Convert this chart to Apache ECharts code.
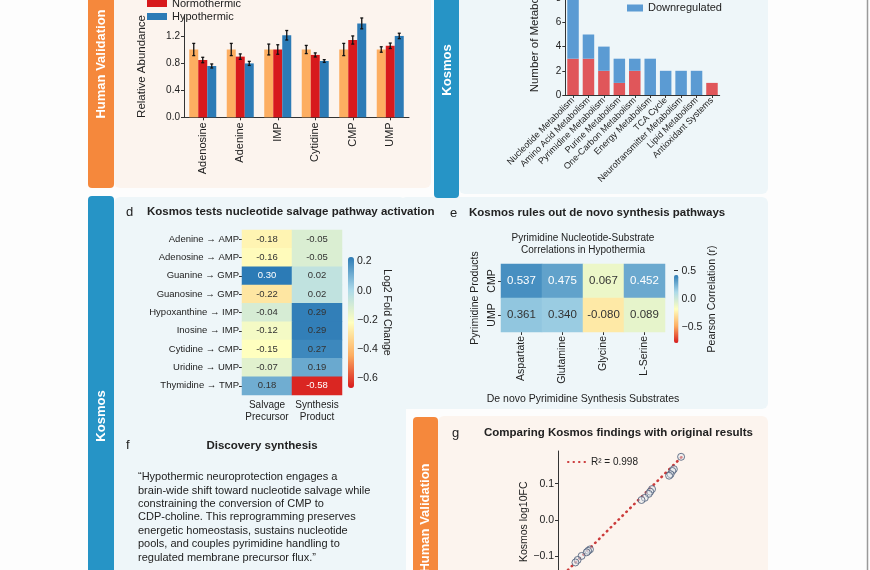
<!DOCTYPE html>
<html><head><meta charset="utf-8">
<script src="https://cdn.jsdelivr.net/npm/echarts@6/dist/echarts.min.js"></script>
<style>html,body{margin:0;padding:0;background:#fdfdfd}#c{width:870px;height:570px}</style>
</head><body><div id="c"></div>
<script>
// ---------- Panel a: human validation bars ----------
const aCategories = ['Adenosine','Adenine','IMP','Cytidine','CMP','UMP'];
const aGroups = ['Control','Normothermic','Hypothermic'];
const aControl = [1.0,1.0,1.0,1.0,1.0,1.0];
const aControlErr = [0.09,0.09,0.08,0.06,0.09,0.04];
const aNormo = [0.845,0.895,1.0,0.92,1.14,1.055];
const aNormoErr = [0.04,0.04,0.07,0.03,0.06,0.04];
const aHypo = [0.757,0.795,1.21,0.83,1.385,1.2];
const aHypoErr = [0.03,0.03,0.07,0.02,0.08,0.04];
const aTicks = [0,0.4,0.8,1.2];
// ---------- Panel b: pathway counts ----------
const bCategories = ['Nucleotide Metabolism','Amino Acid Metabolism','Pyrimidine Metabolism','Purine Metabolism','One-Carbon Metabolism','Energy Metabolism','TCA Cycle','Neurotransmitter Metabolism','Lipid Metabolism','Antioxidant Systems'];
const bUp = [3,3,2,1,2,0,0,0,0,1];
const bDown = [5,2,2,2,1,3,2,2,2,0];
// ---------- Panel d: salvage heatmap ----------
const dRows = ['Adenine → AMP','Adenosine → AMP','Guanine → GMP','Guanosine → GMP','Hypoxanthine → IMP','Inosine → IMP','Cytidine → CMP','Uridine → UMP','Thymidine → TMP'];
const dCols = ['Salvage\nPrecursor','Synthesis\nProduct'];
const dSalvage = [-0.18,-0.16,0.30,-0.22,-0.04,-0.12,-0.15,-0.07,0.18];
const dSynthesis = [-0.05,-0.05,0.02,0.02,0.29,0.29,0.27,0.19,-0.58];
const dTicks = [-0.6,-0.4,-0.2,0,0.2];
// ---------- Panel e: correlation heatmap ----------
const eRows = ['CMP','UMP'];
const eCols = ['Aspartate','Glutamine','Glycine','L-Serine'];
const eCMP = [0.537,0.475,0.067,0.452];
const eUMP = [0.361,0.340,-0.080,0.089];
const eTicks = [-0.5,0,0.5];
// ---------- Panel g: Kosmos vs original ----------
const gOriginal = [0.174,0.154,0.150,0.145,0.141,0.094,0.089,0.085,0.074,0.065,-0.077,-0.082,-0.086,-0.100,-0.111,-0.117];
const gKosmos   = [0.174,0.140,0.135,0.126,0.122,0.085,0.078,0.072,0.061,0.055,-0.081,-0.085,-0.089,-0.099,-0.110,-0.117];
const gFitX = [-0.17,0.178];
const gFitY = [-0.17,0.176];
const gTicks = [-0.2,-0.1,0,0.1];
// ---------- Panel f text ----------
const fLines = [
 '\u201cHypothermic neuroprotection engages a',
 'brain-wide shift toward nucleotide salvage while',
 'constraining the conversion of CMP to',
 'CDP-choline. This reprogramming preserves',
 'energetic homeostasis, sustains nucleotide',
 'pools, and couples pyrimidine handling to',
 'regulated membrane precursor flux.\u201d'
];

const FONT = '"Liberation Sans", Arial, sans-serif';
const INK = '#222';
const PAL = ['#d7191c','#fdae61','#ffffbf','#abd9e9','#2c7bb6'];
const minus = v => String(v).replace('-', '\u2212');

const errData = [];
[[aControl,aControlErr],[aNormo,aNormoErr],[aHypo,aHypoErr]].forEach((pair,g)=>{
  pair[0].forEach((m,i)=>errData.push([i,m,pair[1][i],g]));
});
const dData = [];
dRows.forEach((r,i)=>{
  [dSalvage[i], dSynthesis[i]].forEach((v,j)=>{
    const white = (v >= 0.3 || v <= -0.5);
    dData.push({value:[j,i,v], label:{color: white ? '#fff' : '#333'}});
  });
});
const eData = [];
[eCMP,eUMP].forEach((row,i)=>row.forEach((v,j)=>{
  eData.push({value:[j,i,v], label:{color: v > 0.4 ? '#fff' : '#333'}});
}));
const gPts = gOriginal.map((x,i)=>[x,gKosmos[i]]);
const gFit = gFitX.map((x,i)=>[x,gFitY[i]]);

const LINE = {show:true, onZero:false, lineStyle:{color:'#333', width:1}};
const TICK = {show:true, length:3, lineStyle:{color:'#333'}};

const chart = echarts.init(document.getElementById('c'), null, {renderer:'canvas'});
const txt = (x,y,text,font,extra) => Object.assign({type:'text', x, y, z:50,
  style:Object.assign({text, fill:INK, font, align:'left', verticalAlign:'middle'}, extra||{})});
const G = (o) => Object.assign({outerBoundsMode:'none', containLabel:false}, o);

const option = {
  animation:false,
  backgroundColor:'#fdfdfd',
  textStyle:{fontFamily:FONT},
  grid:[
    G({left:184, top:15.6, width:225, height:101.7}),   // 0 a
    G({left:565.3, top:-26, width:154.4, height:121}),  // 1 b
    G({left:242, top:230, width:100, height:165}),      // 2 d
    G({left:348, top:247, width:6, height:131}),        // 3 d colorbar
    G({left:501, top:264, width:164, height:68}),       // 4 e
    G({left:674, top:265, width:4.5, height:68}),       // 5 e colorbar
    G({left:558, top:451, width:139.8, height:141.6})   // 6 g
  ],
  xAxis:[
    {gridIndex:0, type:'category', data:aCategories, axisLine:LINE, splitLine:{show:false},
      axisTick:Object.assign({alignWithLabel:true}, TICK),
      axisLabel:{rotate:90, interval:0, fontSize:11, color:INK, margin:5}},
    {gridIndex:1, type:'category', data:bCategories, axisLine:LINE, splitLine:{show:false},
      axisTick:Object.assign({alignWithLabel:true}, TICK),
      axisLabel:{rotate:45, interval:0, fontSize:9, color:INK, margin:4}},
    {gridIndex:2, type:'category', data:dCols, axisLine:{show:false}, axisTick:{show:false},
      axisLabel:{interval:0, fontSize:10, lineHeight:12, color:INK, margin:4}},
    {gridIndex:3, type:'value', show:false, min:0, max:1},
    {gridIndex:4, type:'category', data:eCols, axisLine:{show:false},
      axisTick:Object.assign({alignWithLabel:true}, TICK),
      axisLabel:{rotate:90, interval:0, fontSize:10.5, color:INK, margin:4},
      name:'De novo Pyrimidine Synthesis Substrates', nameLocation:'middle', nameGap:62,
      nameTextStyle:{fontSize:10.5, color:INK}},
    {gridIndex:5, type:'value', show:false, min:0, max:1},
    {gridIndex:6, type:'value', min:-0.165, max:0.22, axisLine:LINE, axisTick:TICK, splitLine:{show:false},
      axisLabel:{fontSize:10.5, color:INK},
      name:'Original log10FC', nameLocation:'middle', nameGap:25, nameTextStyle:{fontSize:10.5, color:INK}}
  ],
  yAxis:[
    {gridIndex:0, type:'value', min:0, max:1.5, axisLine:LINE, splitLine:{show:false},
      axisTick:Object.assign({customValues:aTicks}, TICK),
      axisLabel:{customValues:aTicks, formatter:v=>v.toFixed(1), fontSize:10, color:INK, margin:4},
      name:'Relative Abundance', nameLocation:'middle', nameGap:36,
      nameTextStyle:{fontSize:11.5, color:INK}},
    {gridIndex:1, type:'value', min:0, max:10, interval:2, axisLine:LINE, splitLine:{show:false},
      axisTick:TICK,
      axisLabel:{fontSize:10, color:INK, margin:4},
      name:'Number of Metabolites', nameLocation:'middle', nameGap:24,
      nameTextStyle:{fontSize:11.5, color:INK}},
    {gridIndex:2, type:'category', data:dRows, inverse:true, axisLine:{show:false},
      axisTick:Object.assign({alignWithLabel:true}, TICK),
      axisLabel:{interval:0, fontSize:9.5, color:INK, margin:3}},
    {gridIndex:3, type:'value', position:'right', min:-0.6, max:0.3,
      axisLine:{show:false}, splitLine:{show:false},
      axisTick:{show:true, length:4, customValues:dTicks, lineStyle:{color:'#333'}},
      axisLabel:{customValues:dTicks, formatter:v=>minus(v.toFixed(1)), fontSize:10.5, color:INK, margin:3},
      name:'Log2 Fold Change', nameLocation:'middle', nameRotate:-90, nameGap:26,
      nameTextStyle:{fontSize:10.5, color:INK}},
    {gridIndex:4, type:'category', data:eRows, inverse:true, axisLine:{show:false},
      axisTick:Object.assign({alignWithLabel:true}, TICK),
      axisLabel:{rotate:90, interval:0, fontSize:10.5, color:INK, margin:3},
      name:'Pyrimidine Products', nameLocation:'middle', nameGap:20,
      nameTextStyle:{fontSize:10.5, color:INK}},
    {gridIndex:5, type:'value', position:'right', min:-0.6, max:0.6,
      axisLine:{show:false}, splitLine:{show:false},
      axisTick:{show:true, length:4, customValues:eTicks, lineStyle:{color:'#333'}},
      axisLabel:{customValues:eTicks, formatter:v=>minus(v.toFixed(1)), fontSize:10.5, color:INK, margin:3},
      name:'Pearson Correlation (r)', nameLocation:'middle', nameRotate:90, nameGap:26,
      nameTextStyle:{fontSize:10.5, color:INK}},
    {gridIndex:6, type:'value', min:-0.2, max:0.19, axisLine:LINE, splitLine:{show:false},
      axisTick:Object.assign({customValues:gTicks}, TICK),
      axisLabel:{customValues:gTicks, formatter:v=>minus(v.toFixed(1)), fontSize:10.5, color:INK, margin:4},
      name:'Kosmos log10FC', nameLocation:'middle', nameGap:17,
      nameTextStyle:{fontSize:10.5, color:INK}}
  ],
  visualMap:[
    {type:'continuous', seriesIndex:6, min:-0.6, max:0.3, left:333, top:242, itemWidth:6, itemHeight:131,
      calculable:false, inRange:{color:PAL}, text:null, textStyle:{color:'transparent'}},
    {type:'continuous', seriesIndex:7, min:-0.6, max:0.6, left:659, top:260, itemWidth:4.5, itemHeight:68,
      calculable:false, inRange:{color:PAL}, text:null, textStyle:{color:'transparent'}}
  ],
  legend:[
    {data:aGroups, orient:'vertical', left:147, top:-16, padding:0, itemGap:0, itemWidth:20, itemHeight:7,
      icon:'rect', textStyle:{fontSize:11, lineHeight:13, color:INK}},
    {data:['Upregulated','Downregulated'], orient:'vertical', left:627, top:-11.5, padding:0, itemGap:0,
      itemWidth:16, itemHeight:7, icon:'rect', textStyle:{fontSize:11, lineHeight:13, color:INK}},
    {data:['R² = 0.998'], left:567, top:457, padding:0, itemWidth:18, itemHeight:6,
      itemStyle:{opacity:0}, textStyle:{fontSize:10, color:INK}}
  ],
  series:[
    {name:'Control', type:'bar', xAxisIndex:0, yAxisIndex:0, data:aControl, barWidth:9, barGap:'0%', itemStyle:{color:'#fdae61'}},
    {name:'Normothermic', type:'bar', xAxisIndex:0, yAxisIndex:0, data:aNormo, barWidth:9, barGap:'0%', itemStyle:{color:'#d7191c'}},
    {name:'Hypothermic', type:'bar', xAxisIndex:0, yAxisIndex:0, data:aHypo, barWidth:9, barGap:'0%', itemStyle:{color:'#2c7bb6'}},
    {type:'custom', xAxisIndex:0, yAxisIndex:0, data:errData, z:5, encode:{x:0, y:1},
      renderItem:(params, api)=>{
        const ci = api.value(0), m = api.value(1), e = api.value(2), g = api.value(3);
        const off = (g-1)*9;
        const t = api.coord([ci, m+e]), b = api.coord([ci, m-e]);
        const x = t[0]+off;
        const st = {stroke:'#111', lineWidth:1.3};
        return {type:'group', children:[
          {type:'line', shape:{x1:x,y1:t[1],x2:x,y2:b[1]}, style:st},
          {type:'line', shape:{x1:x-1.5,y1:t[1],x2:x+1.5,y2:t[1]}, style:st},
          {type:'line', shape:{x1:x-1.5,y1:b[1],x2:x+1.5,y2:b[1]}, style:st}
        ]};
      }},
    {name:'Upregulated', type:'bar', xAxisIndex:1, yAxisIndex:1, stack:'b', data:bUp, barWidth:11.5, itemStyle:{color:'#e0565a'}},
    {name:'Downregulated', type:'bar', xAxisIndex:1, yAxisIndex:1, stack:'b', data:bDown, barWidth:11.5, itemStyle:{color:'#5b9bd3'}},
    {type:'heatmap', xAxisIndex:2, yAxisIndex:2, data:dData,
      label:{show:true, fontSize:9.5, formatter:p=>p.value[2].toFixed(2)}},
    {type:'heatmap', xAxisIndex:4, yAxisIndex:4, data:eData,
      label:{show:true, fontSize:11.5, formatter:p=>p.value[2].toFixed(3)}},
    {name:'R² = 0.998', type:'line', xAxisIndex:6, yAxisIndex:6, data:gFit, symbol:'none', z:3,
      lineStyle:{color:'#cc3b3b', width:2.6, type:[0.5,5], cap:'round'}, itemStyle:{color:'#cc3b3b'}},
    {type:'scatter', xAxisIndex:6, yAxisIndex:6, data:gPts, symbolSize:7, z:4,
      itemStyle:{color:'rgba(225,232,240,0.55)', borderColor:'#4a5a75', borderWidth:1}}
  ],
  graphic:{elements:[
    {type:'rect', z:-10, shape:{x:114,y:-10,width:317,height:198,r:6}, style:{fill:'#fcf4ee'}},
    {type:'rect', z:-10, shape:{x:459,y:-10,width:309,height:204,r:6}, style:{fill:'#eef6f9'}},
    {type:'rect', z:-10, shape:{x:114,y:197,width:292,height:390,r:6}, style:{fill:'#eef6f9'}},
    {type:'rect', z:-10, shape:{x:400,y:197,width:368,height:212,r:6}, style:{fill:'#eef6f9'}},
    {type:'rect', z:-10, shape:{x:438,y:416,width:330,height:170,r:6}, style:{fill:'#fcf4ee'}},
    {type:'rect', z:-9, shape:{x:88,y:-10,width:26,height:198,r:4}, style:{fill:'#f5883c'}},
    {type:'rect', z:-9, shape:{x:434,y:-10,width:25,height:208,r:4}, style:{fill:'#2694c6'}},
    {type:'rect', z:-9, shape:{x:88,y:196,width:26,height:390,r:4}, style:{fill:'#2694c6'}},
    {type:'rect', z:-9, shape:{x:413,y:417,width:25,height:170,r:4}, style:{fill:'#f5883c'}},
    txt(101,64,'Human Validation','bold 13px '+FONT,{fill:'#fff',align:'center'}),
    txt(447,70,'Kosmos','bold 13px '+FONT,{fill:'#fff',align:'center'}),
    txt(101,416,'Kosmos','bold 13px '+FONT,{fill:'#fff',align:'center'}),
    txt(425.5,518,'Human Validation','bold 13px '+FONT,{fill:'#fff',align:'center'}),
    txt(126,212,'d','13px '+FONT),
    txt(147,212,'Kosmos tests nucleotide salvage pathway activation','bold 11.5px '+FONT),
    txt(450,213,'e','13px '+FONT),
    txt(469,213,'Kosmos rules out de novo synthesis pathways','bold 11.5px '+FONT),
    txt(583,244,'Pyrimidine Nucleotide-Substrate\nCorrelations in Hypothermia','10px '+FONT,{align:'center', lineHeight:12.5}),
    txt(126,445,'f','13px '+FONT),
    txt(262,446,'Discovery synthesis','bold 11.5px '+FONT,{align:'center'}),
    txt(138,470.5,fLines.join('\n'),'11px '+FONT,{verticalAlign:'top', lineHeight:13.4}),
    txt(452,433,'g','13px '+FONT),
    txt(484,433,'Comparing Kosmos findings with original results','bold 11.5px '+FONT),
    {type:'line', z:50, shape:{x1:867.5,y1:0,x2:867.5,y2:570}, style:{stroke:'#9a9a9a', lineWidth:1.5}}
  ].map(e=>{ if(e.type==='text' && (e.style.text==='Human Validation'||e.style.text==='Kosmos')) e.rotation=Math.PI/2; return e; })}
};
chart.setOption(option);
</script></body></html>
